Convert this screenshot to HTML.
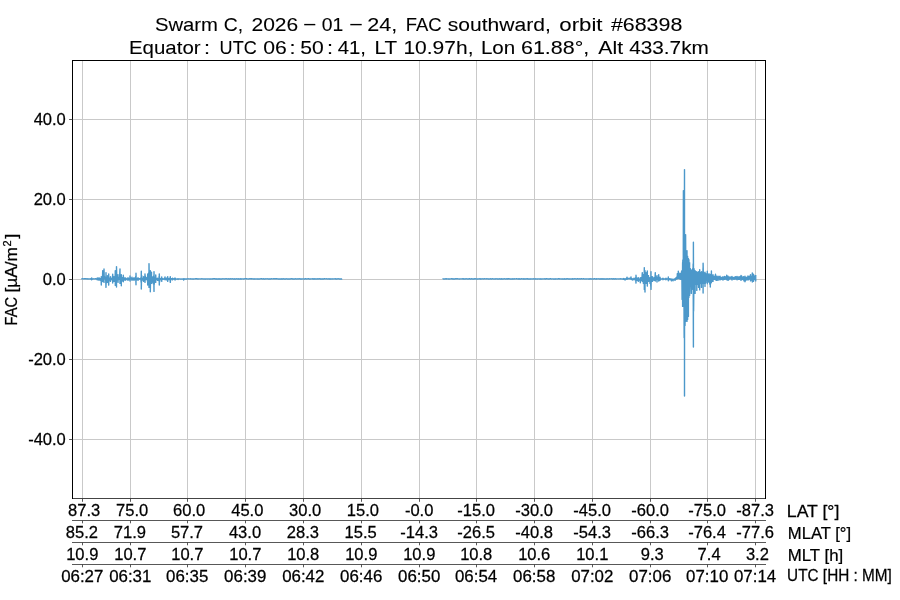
<!DOCTYPE html>
<html><head><meta charset="utf-8"><title>Swarm C FAC</title>
<style>
html,body{margin:0;padding:0;background:#fff;}
body{width:900px;height:600px;overflow:hidden;font-family:"Liberation Sans",sans-serif;}
svg{display:block;will-change:transform;font-family:"Liberation Sans",sans-serif;}
text{white-space:pre;}
</style></head><body>
<svg width="900" height="600" viewBox="0 0 900 600">
<rect width="900" height="600" fill="#fff"/>
<g stroke="#c9c9c9" stroke-width="1" fill="none"><line x1="82.5" y1="60.5" x2="82.5" y2="498.5"/><line x1="130.5" y1="60.5" x2="130.5" y2="498.5"/><line x1="187.5" y1="60.5" x2="187.5" y2="498.5"/><line x1="245.5" y1="60.5" x2="245.5" y2="498.5"/><line x1="303.5" y1="60.5" x2="303.5" y2="498.5"/><line x1="361.5" y1="60.5" x2="361.5" y2="498.5"/><line x1="419.5" y1="60.5" x2="419.5" y2="498.5"/><line x1="476.5" y1="60.5" x2="476.5" y2="498.5"/><line x1="534.5" y1="60.5" x2="534.5" y2="498.5"/><line x1="592.5" y1="60.5" x2="592.5" y2="498.5"/><line x1="650.5" y1="60.5" x2="650.5" y2="498.5"/><line x1="707.5" y1="60.5" x2="707.5" y2="498.5"/><line x1="755.5" y1="60.5" x2="755.5" y2="498.5"/><line x1="72.5" y1="119.5" x2="765.5" y2="119.5"/><line x1="72.5" y1="199.5" x2="765.5" y2="199.5"/><line x1="72.5" y1="279.5" x2="765.5" y2="279.5"/><line x1="72.5" y1="359.5" x2="765.5" y2="359.5"/><line x1="72.5" y1="439.5" x2="765.5" y2="439.5"/></g>
<path d="M81.30,278.85 L81.75,278.80 L82.20,278.95 L82.65,278.77 L83.10,278.91 L83.55,278.86 L84.00,278.77 L84.45,278.90 L84.90,278.76 L85.35,278.88 L85.80,278.77 L86.25,278.78 L86.70,278.88 L87.15,279.00 L87.60,278.79 L88.05,278.82 L88.50,278.94 L88.95,279.03 L89.40,278.92 L89.85,278.87 L90.30,279.04 L90.75,278.76 L91.00,279.01 L91.20,278.74 L91.65,279.25 L91.70,277.90 L91.70,279.90 L92.10,278.70 L92.50,278.84 L92.55,278.99 L93.00,278.80 L93.45,278.92 L93.90,278.94 L94.35,278.86 L94.80,278.91 L95.25,278.77 L95.70,278.77 L96.00,278.81 L96.15,278.95 L96.60,278.88 L97.05,279.17 L97.30,277.90 L97.30,279.90 L97.50,278.50 L97.95,279.05 L98.40,278.77 L98.85,279.75 L99.00,277.60 L99.00,280.40 L99.30,278.45 L99.75,279.17 L100.20,278.66 L100.65,280.19 L101.10,278.04 L101.30,285.10 L101.30,276.60 L101.55,282.38 L102.00,277.81 L102.45,279.81 L102.70,270.60 L102.70,281.40 L102.90,275.07 L103.35,278.68 L103.80,272.72 L104.00,282.40 L104.00,268.90 L104.25,278.31 L104.70,276.81 L105.15,278.91 L105.60,276.90 L106.00,287.40 L106.00,272.60 L106.05,284.72 L106.50,277.46 L106.95,280.14 L107.40,277.62 L107.50,282.40 L107.50,275.60 L107.85,280.26 L108.30,277.40 L108.70,285.10 L108.70,273.90 L108.75,282.59 L109.20,277.88 L109.65,279.71 L110.10,278.03 L110.50,281.40 L110.50,276.60 L110.55,280.20 L111.00,278.29 L111.45,279.30 L111.90,278.27 L112.35,280.42 L112.70,274.30 L112.70,283.10 L112.80,275.61 L113.25,279.98 L113.70,278.31 L114.00,281.40 L114.00,276.60 L114.15,279.95 L114.60,277.49 L115.05,279.91 L115.30,270.60 L115.30,285.40 L115.50,275.10 L115.95,279.62 L116.40,273.77 L116.50,287.10 L116.50,266.60 L116.85,279.69 L117.30,277.40 L117.75,279.61 L118.00,274.60 L118.00,282.40 L118.20,277.31 L118.65,279.61 L119.10,277.30 L119.55,278.65 L120.00,268.90 L120.00,283.40 L120.45,275.44 L120.90,281.43 L121.30,274.60 L121.30,285.70 L121.35,276.20 L121.80,281.28 L122.25,277.59 L122.70,279.33 L123.15,277.22 L123.30,281.70 L123.30,275.30 L123.60,279.61 L124.05,278.58 L124.50,279.34 L124.95,278.51 L125.00,280.40 L125.00,277.60 L125.40,279.43 L125.85,278.67 L126.00,279.70 L126.00,278.30 L126.30,279.10 L126.75,278.95 L127.20,278.98 L127.65,278.66 L128.00,280.40 L128.00,277.60 L128.10,279.35 L128.55,278.70 L129.00,279.20 L129.45,278.23 L129.90,280.31 L130.00,275.90 L130.00,281.10 L130.35,277.69 L130.80,279.17 L131.25,278.43 L131.70,279.42 L132.00,277.10 L132.00,280.40 L132.15,278.34 L132.60,279.33 L133.05,278.61 L133.50,279.32 L133.95,278.09 L134.00,280.40 L134.00,277.60 L134.40,279.26 L134.85,278.71 L135.30,279.38 L135.75,276.43 L136.00,284.70 L136.00,273.30 L136.20,280.45 L136.65,278.40 L137.10,279.16 L137.55,278.76 L138.00,280.40 L138.00,277.60 L138.45,279.19 L138.90,278.79 L139.35,279.11 L139.80,278.77 L140.25,279.13 L140.70,277.88 L141.15,282.34 L141.30,271.30 L141.30,289.10 L141.60,275.35 L142.05,280.30 L142.50,278.56 L142.95,279.40 L143.40,278.00 L143.50,281.40 L143.50,276.60 L143.85,279.62 L144.30,278.52 L144.75,280.54 L145.00,273.90 L145.00,282.40 L145.20,275.69 L145.65,279.59 L146.10,277.37 L146.55,279.20 L147.00,277.76 L147.45,281.26 L147.70,273.90 L147.70,285.10 L147.90,277.49 L148.35,280.88 L148.80,272.60 L149.00,287.40 L149.00,263.60 L149.25,279.08 L149.70,275.62 L150.15,285.82 L150.30,270.60 L150.30,291.70 L150.60,277.79 L151.05,280.34 L151.50,272.30 L151.50,283.40 L151.95,277.45 L152.40,279.98 L152.85,277.54 L153.00,282.40 L153.00,276.60 L153.30,283.76 L153.75,275.72 L154.00,291.40 L154.00,271.60 L154.20,284.34 L154.65,278.32 L155.10,279.45 L155.55,276.56 L155.70,282.40 L155.70,274.90 L156.00,280.11 L156.45,278.52 L156.90,279.26 L157.35,278.83 L157.50,280.40 L157.50,278.10 L157.80,279.59 L158.25,278.81 L158.70,280.51 L159.15,276.13 L159.30,285.10 L159.30,273.90 L159.60,281.97 L160.05,278.39 L160.50,279.44 L160.95,278.50 L161.40,279.74 L161.70,276.90 L161.70,281.40 L161.85,278.54 L162.30,279.17 L162.75,278.91 L163.00,278.60 L163.00,279.40 L163.20,278.89 L163.65,279.01 L164.10,279.09 L164.55,278.83 L165.00,276.90 L165.00,279.70 L165.45,278.19 L165.90,279.05 L166.35,279.51 L166.50,278.10 L166.50,279.90 L166.80,278.75 L167.25,279.39 L167.70,276.60 L167.70,281.40 L168.15,278.52 L168.60,279.37 L169.05,278.53 L169.50,279.60 L169.95,278.03 L170.30,282.40 L170.30,276.60 L170.40,281.28 L170.85,278.64 L171.30,279.10 L171.75,278.80 L172.20,279.12 L172.50,278.10 L172.50,279.90 L172.65,278.56 L173.10,279.12 L173.55,278.80 L174.00,279.11 L174.45,278.83 L174.90,279.35 L175.00,277.90 L175.00,280.10 L175.35,278.61 L175.80,278.90 L176.25,279.05 L176.70,279.10 L177.15,278.92 L177.60,278.93 L178.00,279.40 L178.00,278.60 L178.05,279.27 L178.50,279.04 L178.95,278.91 L179.40,278.90 L179.85,278.91 L180.30,279.13 L180.75,279.10 L181.20,278.90 L181.65,279.11 L182.10,279.15 L182.55,279.06 L183.00,278.97 L183.45,279.12 L183.70,280.10 L183.70,278.80 L183.90,279.49 L184.35,278.88 L184.80,279.04 L185.25,278.94 L185.70,278.91 L186.15,279.03 L186.60,278.88 L187.00,279.01 L187.05,279.00 L187.50,278.81 L187.95,278.83 L188.40,278.84 L188.85,278.82 L189.30,278.93 L189.75,278.83 L190.20,278.88 L190.65,278.79 L191.10,279.02 L191.55,278.86 L192.00,278.89 L192.45,278.93 L192.90,279.02 L193.35,278.88 L193.80,279.03 L194.25,278.90 L194.70,278.91 L195.15,278.91 L195.60,278.76 L196.05,278.88 L196.50,278.80 L196.95,278.75 L197.40,278.99 L197.85,278.80 L198.30,278.89 L198.75,278.97 L199.20,278.92 L199.65,278.85 L200.10,278.91 L200.55,278.92 L201.00,278.99 L201.45,278.78 L201.90,278.92 L202.35,278.82 L202.80,278.83 L203.25,278.98 L203.70,278.90 L204.15,278.92 L204.60,278.98 L205.05,279.02 L205.50,278.88 L205.95,278.93 L206.40,278.90 L206.85,278.90 L207.30,278.96 L207.75,278.89 L208.20,278.91 L208.65,278.89 L209.10,279.03 L209.55,278.96 L210.00,279.01 L210.45,279.03 L210.90,278.83 L211.35,278.92 L211.80,279.03 L212.25,279.00 L212.70,278.79 L213.15,278.79 L213.60,278.88 L214.05,278.77 L214.50,278.82 L214.95,278.77 L215.40,278.95 L215.85,278.99 L216.30,279.02 L216.75,278.80 L217.20,278.96 L217.65,278.95 L218.10,278.79 L218.55,279.01 L219.00,279.04 L219.45,278.82 L219.90,279.04 L220.35,278.87 L220.80,278.90 L221.25,279.05 L221.70,279.00 L222.15,278.80 L222.60,278.88 L223.05,278.90 L223.50,278.85 L223.95,278.81 L224.40,278.85 L224.85,278.97 L225.30,278.76 L225.75,278.92 L226.20,278.88 L226.65,278.76 L227.10,278.85 L227.55,278.94 L228.00,278.90 L228.45,278.77 L228.90,279.05 L229.35,278.99 L229.80,279.04 L230.25,278.78 L230.70,278.83 L231.15,278.76 L231.60,278.98 L232.05,278.83 L232.50,278.79 L232.95,278.88 L233.40,279.02 L233.85,279.00 L234.30,278.83 L234.75,278.79 L235.20,279.03 L235.65,278.92 L236.10,278.96 L236.55,278.78 L237.00,278.77 L237.45,278.96 L237.90,278.88 L238.35,278.77 L238.80,279.03 L239.25,278.94 L239.70,278.99 L240.15,278.78 L240.60,279.01 L241.05,278.77 L241.50,279.01 L241.95,278.89 L242.40,278.85 L242.85,278.92 L243.30,279.03 L243.75,278.83 L244.20,278.79 L244.65,278.91 L245.10,278.82 L245.55,278.78 L246.00,278.80 L246.45,278.77 L246.90,278.81 L247.35,278.84 L247.80,278.84 L248.25,278.98 L248.70,278.84 L249.15,278.90 L249.60,278.80 L250.05,278.85 L250.50,278.76 L250.95,278.83 L251.40,278.75 L251.85,278.97 L252.30,278.92 L252.75,278.81 L253.20,278.89 L253.65,279.03 L254.10,278.78 L254.55,279.00 L255.00,278.88 L255.45,278.90 L255.90,279.00 L256.35,278.87 L256.80,278.90 L257.25,278.96 L257.70,279.04 L258.15,278.85 L258.60,279.00 L259.05,278.96 L259.50,278.94 L259.95,278.87 L260.40,278.85 L260.85,278.77 L261.30,278.79 L261.75,278.77 L262.20,278.97 L262.65,278.83 L263.10,278.80 L263.55,278.78 L264.00,279.00 L264.45,279.01 L264.90,278.95 L265.35,278.83 L265.80,278.82 L266.25,278.84 L266.70,278.89 L267.15,278.80 L267.60,278.88 L268.05,278.83 L268.50,279.04 L268.95,279.04 L269.40,278.91 L269.85,278.82 L270.30,279.04 L270.75,278.84 L271.20,278.86 L271.65,278.75 L272.10,278.86 L272.55,278.89 L273.00,278.90 L273.45,278.81 L273.90,278.90 L274.35,278.75 L274.80,278.83 L275.25,278.78 L275.70,278.87 L276.15,278.76 L276.60,278.76 L277.05,278.84 L277.50,278.82 L277.95,278.93 L278.40,278.91 L278.85,278.98 L279.30,278.95 L279.75,278.96 L280.20,279.01 L280.65,278.87 L281.10,278.85 L281.55,279.05 L282.00,278.79 L282.45,278.97 L282.90,278.94 L283.35,278.76 L283.80,279.00 L284.25,279.02 L284.70,278.94 L285.15,278.97 L285.60,278.99 L286.05,278.79 L286.50,278.91 L286.95,278.90 L287.40,279.00 L287.85,278.99 L288.30,279.00 L288.75,278.93 L289.20,279.02 L289.65,278.95 L290.10,278.96 L290.55,278.82 L291.00,278.76 L291.45,278.79 L291.90,278.86 L292.35,278.78 L292.80,279.00 L293.25,278.92 L293.70,278.94 L294.15,278.94 L294.60,278.95 L295.05,278.90 L295.50,278.75 L295.95,278.99 L296.40,278.97 L296.85,278.90 L297.30,278.91 L297.75,278.95 L298.20,278.77 L298.65,278.97 L299.10,278.83 L299.55,278.77 L300.00,278.83 L300.45,278.97 L300.90,278.81 L301.35,278.97 L301.80,279.04 L302.25,278.90 L302.70,278.86 L303.15,278.89 L303.60,278.96 L304.05,278.98 L304.50,278.94 L304.95,278.94 L305.40,278.77 L305.85,278.79 L306.30,278.83 L306.75,278.97 L307.20,278.84 L307.65,278.92 L308.10,278.75 L308.55,278.77 L309.00,278.83 L309.45,278.95 L309.90,278.96 L310.35,278.95 L310.80,278.84 L311.25,278.90 L311.70,278.89 L312.15,278.89 L312.60,278.79 L313.05,279.02 L313.50,278.81 L313.95,279.04 L314.40,279.03 L314.85,278.76 L315.30,278.89 L315.75,279.00 L316.20,279.04 L316.65,278.88 L317.10,278.83 L317.55,278.81 L318.00,279.03 L318.45,278.81 L318.90,278.92 L319.35,278.79 L319.80,278.91 L320.25,279.04 L320.70,278.79 L321.15,279.00 L321.60,278.90 L322.05,279.02 L322.50,278.96 L322.95,278.82 L323.40,279.02 L323.85,278.90 L324.30,278.76 L324.75,278.75 L325.20,278.90 L325.65,278.89 L326.10,278.84 L326.55,278.79 L327.00,278.85 L327.45,278.84 L327.90,279.00 L328.35,278.75 L328.80,278.98 L329.25,279.00 L329.70,278.79 L330.15,279.03 L330.60,278.96 L331.05,279.02 L331.50,278.84 L331.95,278.86 L332.40,278.87 L332.85,279.05 L333.30,278.93 L333.75,278.86 L334.20,278.88 L334.65,278.83 L335.10,278.76 L335.55,278.78 L336.00,279.00 L336.45,278.84 L336.90,279.03 L337.35,278.82 L337.80,278.83 L338.25,278.90 L338.70,278.81 L339.15,278.86 L339.60,279.04 L340.05,279.02 L340.50,278.99 L340.95,278.94 L341.40,279.02 L341.85,279.03 L342.20,278.91" fill="none" stroke="#4c98ca" stroke-width="1.4" stroke-linejoin="round"/>
<path d="M442.50,278.97 L442.95,278.76 L443.40,278.97 L443.85,278.89 L444.30,278.98 L444.75,278.94 L445.20,278.84 L445.65,278.76 L446.10,279.03 L446.55,278.79 L447.00,278.89 L447.45,278.85 L447.90,278.84 L448.35,278.97 L448.80,279.04 L449.25,278.83 L449.70,278.95 L450.15,278.84 L450.60,278.92 L451.05,278.87 L451.50,278.80 L451.95,278.80 L452.40,278.81 L452.85,279.02 L453.30,278.90 L453.75,278.82 L454.20,279.02 L454.65,279.05 L455.10,278.88 L455.55,278.79 L456.00,278.81 L456.45,278.78 L456.90,278.85 L457.35,278.78 L457.80,278.82 L458.25,278.83 L458.70,278.92 L459.15,279.02 L459.60,278.97 L460.05,278.87 L460.50,278.87 L460.95,278.91 L461.40,278.86 L461.85,278.85 L462.30,278.77 L462.75,278.83 L463.20,279.04 L463.65,278.79 L464.10,278.90 L464.55,278.94 L465.00,279.01 L465.45,278.81 L465.90,278.83 L466.35,278.82 L466.80,278.87 L467.25,278.88 L467.70,279.04 L468.15,279.00 L468.60,279.01 L469.05,278.76 L469.50,278.76 L469.95,278.96 L470.40,279.02 L470.85,278.89 L471.30,278.93 L471.75,278.75 L472.20,278.87 L472.65,279.03 L473.10,279.00 L473.55,279.01 L474.00,279.04 L474.45,278.82 L474.90,278.78 L475.35,278.80 L475.80,278.91 L476.25,278.95 L476.70,279.03 L477.15,278.97 L477.60,278.94 L478.05,278.98 L478.50,278.89 L478.95,278.92 L479.40,278.76 L479.85,278.98 L480.30,278.82 L480.75,279.03 L481.20,278.94 L481.65,278.84 L482.10,278.79 L482.55,278.83 L483.00,278.94 L483.45,278.96 L483.90,278.78 L484.35,278.77 L484.80,278.91 L485.25,278.92 L485.70,278.87 L486.15,278.82 L486.60,278.93 L487.05,278.75 L487.50,278.84 L487.95,278.89 L488.40,279.04 L488.85,278.94 L489.30,279.02 L489.75,278.89 L490.20,278.82 L490.65,278.82 L491.10,279.04 L491.55,278.96 L492.00,278.84 L492.45,278.76 L492.90,278.90 L493.35,278.95 L493.80,278.88 L494.25,278.83 L494.70,278.95 L495.15,279.03 L495.60,278.82 L496.05,278.76 L496.50,278.85 L496.95,278.88 L497.40,278.95 L497.85,278.81 L498.30,278.99 L498.75,278.97 L499.20,278.90 L499.65,278.81 L500.10,279.04 L500.55,278.84 L501.00,279.00 L501.45,278.82 L501.90,278.82 L502.35,278.98 L502.80,278.84 L503.25,279.04 L503.70,278.90 L504.15,278.81 L504.60,278.82 L505.05,278.88 L505.50,278.95 L505.95,279.03 L506.40,278.79 L506.85,278.87 L507.30,278.81 L507.75,279.04 L508.20,278.79 L508.65,278.77 L509.10,278.77 L509.55,278.87 L510.00,279.02 L510.45,279.02 L510.90,278.97 L511.35,279.05 L511.80,279.03 L512.25,278.85 L512.70,278.81 L513.15,279.03 L513.60,278.97 L514.05,278.76 L514.50,278.95 L514.95,278.86 L515.40,278.86 L515.85,278.85 L516.30,278.80 L516.75,278.75 L517.20,278.83 L517.65,278.86 L518.10,279.04 L518.55,278.79 L519.00,279.04 L519.45,278.81 L519.90,278.86 L520.35,279.00 L520.80,279.00 L521.25,278.88 L521.70,278.76 L522.15,278.89 L522.60,278.86 L523.05,279.03 L523.50,278.81 L523.95,278.86 L524.40,279.02 L524.85,278.76 L525.30,278.87 L525.75,278.99 L526.20,278.98 L526.65,278.76 L527.10,278.76 L527.55,278.77 L528.00,279.03 L528.45,278.83 L528.90,278.97 L529.35,279.02 L529.80,278.85 L530.25,278.83 L530.70,279.04 L531.15,278.94 L531.60,278.83 L532.05,278.96 L532.50,278.84 L532.95,278.83 L533.40,278.75 L533.85,278.98 L534.30,279.02 L534.75,278.94 L535.20,279.03 L535.65,278.76 L536.10,278.82 L536.55,278.89 L537.00,279.04 L537.45,279.04 L537.90,278.87 L538.35,278.83 L538.80,278.88 L539.25,278.90 L539.70,279.03 L540.15,278.80 L540.60,278.99 L541.05,278.97 L541.50,279.00 L541.95,278.98 L542.40,278.93 L542.85,278.85 L543.30,278.85 L543.75,278.86 L544.20,278.98 L544.65,278.77 L545.10,278.81 L545.55,278.98 L546.00,278.82 L546.45,278.77 L546.90,278.76 L547.35,278.92 L547.80,278.85 L548.25,279.04 L548.70,279.02 L549.15,279.05 L549.60,278.83 L550.05,278.78 L550.50,278.78 L550.95,278.90 L551.40,278.96 L551.85,278.88 L552.30,278.82 L552.75,278.88 L553.20,278.94 L553.65,278.95 L554.10,278.97 L554.55,279.00 L555.00,278.95 L555.45,278.79 L555.90,279.00 L556.35,278.84 L556.80,278.92 L557.25,278.86 L557.70,278.97 L558.15,278.81 L558.60,278.82 L559.05,278.82 L559.50,278.80 L559.95,279.02 L560.40,278.92 L560.85,278.85 L561.30,278.87 L561.75,279.05 L562.20,278.90 L562.65,278.82 L563.10,278.99 L563.55,278.95 L564.00,279.05 L564.45,278.78 L564.90,278.89 L565.35,279.00 L565.80,279.00 L566.25,279.02 L566.70,278.76 L567.15,278.84 L567.60,278.79 L568.05,278.81 L568.50,279.04 L568.95,278.92 L569.40,279.03 L569.85,278.86 L570.30,279.01 L570.75,278.88 L571.20,278.83 L571.65,278.98 L572.10,279.03 L572.55,278.78 L573.00,278.93 L573.45,278.94 L573.90,278.82 L574.35,278.86 L574.80,278.79 L575.25,278.81 L575.70,278.83 L576.15,278.93 L576.60,278.95 L577.05,278.81 L577.50,278.75 L577.95,278.85 L578.40,278.95 L578.85,278.81 L579.30,278.84 L579.75,278.81 L580.20,278.99 L580.65,278.91 L581.10,278.77 L581.55,278.78 L582.00,278.87 L582.45,278.92 L582.90,278.94 L583.35,278.78 L583.80,278.80 L584.25,278.96 L584.70,278.87 L585.15,278.83 L585.60,278.84 L586.05,279.04 L586.50,278.84 L586.95,278.92 L587.40,278.86 L587.85,278.87 L588.30,279.01 L588.75,279.05 L589.20,278.86 L589.65,278.81 L590.10,278.97 L590.55,278.81 L591.00,278.75 L591.45,279.02 L591.90,278.88 L592.35,279.00 L592.80,278.87 L593.25,279.01 L593.70,278.89 L594.15,278.80 L594.60,278.75 L595.05,278.92 L595.50,278.94 L595.95,279.02 L596.40,278.78 L596.85,278.94 L597.30,278.86 L597.75,278.90 L598.20,278.79 L598.65,278.83 L599.10,278.91 L599.55,279.03 L600.00,278.78 L600.45,278.90 L600.90,278.99 L601.35,279.04 L601.80,278.81 L602.25,278.79 L602.70,279.03 L603.15,279.04 L603.60,278.89 L604.05,278.77 L604.50,279.03 L604.95,278.87 L605.40,279.02 L605.85,278.94 L606.30,279.00 L606.75,278.80 L607.20,278.99 L607.65,278.82 L608.10,278.87 L608.55,279.00 L609.00,279.00 L609.45,278.80 L609.90,278.82 L610.35,278.87 L610.80,278.91 L611.25,278.87 L611.70,278.79 L612.15,278.82 L612.60,278.97 L613.05,279.02 L613.50,278.76 L613.95,278.92 L614.40,278.98 L614.85,278.76 L615.00,279.00 L615.30,278.79 L615.75,278.93 L616.20,278.92 L616.65,278.94 L617.10,278.84 L617.55,278.88 L618.00,278.92 L618.45,278.88 L618.90,278.95 L619.35,278.88 L619.80,278.88 L620.25,278.76 L620.70,278.94 L621.15,278.90 L621.60,278.82 L622.05,278.98 L622.50,278.98 L622.95,278.89 L623.40,278.87 L623.70,278.60 L623.70,279.40 L623.85,278.85 L624.30,278.84 L624.75,279.39 L625.00,278.60 L625.00,280.10 L625.20,279.01 L625.65,278.85 L626.10,278.94 L626.55,278.74 L627.00,277.10 L627.00,279.40 L627.45,278.43 L627.90,278.77 L628.35,278.42 L628.80,278.78 L629.25,278.29 L629.70,278.74 L630.15,278.42 L630.60,278.73 L631.00,276.90 L631.00,279.40 L631.05,277.62 L631.50,278.83 L631.95,279.09 L632.30,280.10 L632.30,278.60 L632.40,279.75 L632.85,279.24 L633.30,279.16 L633.75,278.60 L634.00,279.90 L634.00,278.10 L634.20,279.22 L634.65,278.78 L635.10,279.08 L635.55,277.61 L636.00,283.10 L636.00,275.30 L636.45,280.49 L636.90,278.95 L637.35,279.81 L637.50,278.10 L637.50,280.40 L637.80,278.25 L638.25,280.10 L638.30,277.60 L638.30,281.40 L638.70,278.83 L639.15,279.76 L639.60,278.94 L640.05,281.16 L640.30,277.60 L640.30,282.70 L640.50,278.91 L640.95,280.68 L641.30,277.60 L641.30,280.40 L641.40,278.17 L641.85,279.58 L642.30,272.60 L642.30,281.40 L642.75,274.56 L643.20,280.58 L643.30,274.60 L643.30,283.40 L643.65,275.95 L644.10,283.91 L644.30,267.60 L644.30,289.40 L644.55,274.53 L645.00,292.10 L645.00,270.60 L645.45,282.50 L645.90,276.01 L646.00,283.40 L646.00,272.60 L646.35,279.57 L646.80,276.01 L647.25,283.12 L647.30,270.90 L647.30,286.10 L647.70,275.43 L648.15,279.28 L648.50,275.60 L648.50,281.40 L648.60,276.77 L649.05,279.28 L649.50,278.98 L649.95,282.10 L650.00,277.60 L650.00,283.40 L650.40,277.96 L650.85,286.39 L651.00,271.60 L651.00,289.40 L651.30,276.53 L651.75,280.35 L652.20,277.86 L652.50,281.40 L652.50,276.60 L652.65,279.67 L653.10,278.46 L653.55,279.26 L654.00,277.60 L654.00,280.40 L654.45,278.71 L654.90,279.28 L655.30,272.60 L655.30,281.10 L655.35,275.22 L655.80,279.45 L656.25,277.87 L656.70,279.87 L657.00,275.60 L657.00,282.10 L657.15,277.03 L657.60,279.25 L658.05,278.11 L658.50,279.73 L658.70,274.60 L658.70,281.10 L658.95,277.37 L659.40,279.25 L659.85,278.21 L660.00,280.40 L660.00,277.10 L660.30,279.40 L660.75,279.10 L661.20,278.98 L661.65,279.00 L662.10,278.90 L662.55,278.81 L663.00,278.30 L663.00,279.70 L663.45,278.82 L663.90,278.85 L664.35,278.99 L664.80,278.93 L665.25,278.96 L665.70,278.62 L666.00,279.70 L666.00,278.10 L666.15,279.12 L666.60,278.82 L667.05,278.95 L667.50,278.76 L667.95,278.53 L668.30,280.70 L668.30,276.90 L668.40,279.60 L668.85,278.67 L669.30,279.05 L669.75,279.30 L670.00,278.60 L670.00,279.90 L670.20,278.94 L670.65,279.21 L671.10,279.68 L671.50,279.10 L671.50,280.90 L671.55,279.44 L672.00,279.45 L672.45,279.40 L672.90,280.33 L673.00,279.30 L673.00,280.70 L673.35,279.51 L673.80,279.32 L674.25,279.24 L674.70,279.60 L675.00,278.60 L675.00,280.40 L675.15,278.69 L675.60,279.52 L676.00,277.60 L676.00,279.40 L676.05,278.11 L676.50,278.70 L676.95,276.72 L677.30,278.90 L677.30,273.60 L677.40,277.81 L677.85,273.57 L678.30,278.40 L678.30,271.10 L678.75,277.00 L679.20,274.75 L679.30,278.90 L679.30,274.10 L679.65,277.63 L680.00,273.10 L680.00,278.90 L680.10,273.83 L680.55,278.28 L680.80,273.60 L680.80,279.40 L681.00,274.79 L681.45,278.41 L681.60,270.90 L681.60,279.40 L681.90,277.73 L682.10,299.40 L682.10,270.60 L682.35,295.02 L682.60,262.60 L682.60,306.40 L682.80,259.96 L683.25,276.67 L683.40,190.60 L683.40,306.40 L683.70,233.83 L684.15,337.80 L684.50,169.60 L684.50,396.00 L684.60,249.65 L685.05,325.46 L685.50,240.11 L685.60,321.40 L685.60,234.60 L685.95,295.36 L686.40,267.05 L686.85,307.04 L687.00,250.60 L687.00,321.40 L687.30,268.36 L687.60,319.40 L687.60,256.20 L687.75,307.05 L688.20,266.67 L688.40,316.40 L688.40,258.60 L688.65,292.26 L688.90,259.60 L688.90,297.40 L689.10,270.37 L689.55,286.43 L689.60,262.60 L689.60,295.40 L690.00,274.02 L690.30,285.40 L690.30,268.60 L690.45,284.33 L690.90,272.59 L691.30,293.40 L691.30,269.90 L691.35,288.85 L691.80,276.17 L692.00,284.40 L692.00,270.60 L692.25,283.92 L692.70,268.60 L692.70,289.40 L693.15,263.87 L693.40,347.00 L693.40,242.20 L693.60,311.22 L694.05,270.82 L694.10,287.40 L694.10,268.60 L694.50,284.97 L694.95,276.82 L695.10,293.40 L695.10,270.60 L695.40,283.55 L695.80,271.60 L695.80,284.40 L695.85,275.42 L696.30,282.02 L696.75,276.52 L696.80,290.40 L696.80,271.60 L697.20,284.70 L697.60,272.60 L697.60,283.90 L697.65,274.58 L698.10,283.77 L698.55,274.33 L698.60,287.40 L698.60,271.60 L699.00,283.37 L699.45,274.13 L699.70,289.90 L699.70,269.60 L699.90,283.96 L700.35,273.96 L700.50,283.40 L700.50,272.60 L700.80,281.90 L701.25,275.98 L701.50,287.40 L701.50,271.60 L701.70,283.64 L702.15,273.69 L702.30,283.40 L702.30,272.60 L702.60,281.74 L703.05,267.60 L703.10,293.10 L703.10,263.30 L703.50,281.22 L703.90,272.60 L703.90,283.40 L703.95,275.70 L704.40,281.16 L704.85,274.44 L705.00,286.40 L705.00,272.10 L705.30,283.51 L705.75,275.00 L705.80,282.40 L705.80,273.60 L706.20,280.13 L706.65,273.71 L707.10,280.33 L707.30,271.30 L707.30,283.70 L707.55,275.32 L708.00,281.05 L708.30,274.60 L708.30,281.40 L708.45,275.78 L708.90,280.75 L709.00,273.60 L709.00,282.40 L709.35,275.67 L709.80,284.13 L710.25,277.44 L710.30,287.10 L710.30,274.60 L710.70,283.69 L711.15,273.80 L711.40,282.40 L711.40,270.90 L711.60,280.79 L712.05,276.07 L712.30,281.40 L712.30,275.60 L712.50,280.37 L712.95,276.07 L713.00,281.40 L713.00,274.60 L713.40,279.35 L713.85,276.35 L714.30,279.40 L714.75,276.27 L715.20,279.36 L715.50,274.10 L715.50,279.90 L715.65,276.15 L716.10,278.52 L716.50,276.10 L716.50,280.40 L716.55,277.49 L717.00,279.89 L717.45,277.23 L717.90,279.05 L718.00,276.10 L718.00,280.40 L718.35,277.55 L718.80,278.83 L719.25,276.82 L719.70,279.30 L720.00,276.10 L720.00,280.00 L720.15,276.81 L720.60,279.37 L721.05,277.52 L721.50,279.26 L721.95,277.35 L722.40,279.49 L722.85,277.07 L723.00,280.00 L723.00,276.60 L723.30,279.53 L723.75,277.51 L724.20,279.40 L724.65,276.41 L725.10,279.36 L725.55,276.93 L726.00,278.45 L726.45,276.66 L726.70,279.70 L726.70,275.10 L726.90,278.25 L727.35,276.21 L727.80,279.65 L728.00,276.10 L728.00,280.40 L728.25,276.93 L728.70,279.73 L729.15,276.97 L729.60,279.12 L730.05,277.53 L730.50,278.89 L730.95,276.93 L731.40,278.95 L731.85,277.37 L732.00,280.00 L732.00,276.40 L732.30,279.11 L732.75,277.63 L733.20,278.94 L733.65,277.39 L734.10,279.31 L734.55,277.30 L735.00,278.94 L735.45,276.78 L735.90,279.07 L736.35,276.87 L736.80,279.14 L737.00,276.40 L737.00,279.80 L737.25,277.54 L737.70,279.00 L738.15,277.04 L738.60,279.41 L739.05,277.00 L739.50,279.41 L739.95,276.65 L740.40,278.90 L740.85,276.10 L741.00,280.40 L741.00,275.40 L741.30,278.85 L741.75,276.27 L742.20,279.20 L742.65,277.52 L743.10,279.49 L743.55,276.70 L744.00,280.80 L744.45,277.93 L744.90,280.40 L745.00,276.10 L745.00,281.70 L745.35,277.31 L745.80,280.46 L746.25,277.53 L746.70,279.66 L747.15,277.15 L747.60,279.62 L748.00,275.90 L748.00,280.00 L748.05,277.05 L748.50,279.66 L748.95,276.78 L749.40,278.92 L749.85,275.94 L750.30,279.45 L750.50,274.60 L750.50,280.90 L750.75,276.53 L751.20,279.95 L751.65,276.20 L752.10,280.61 L752.30,272.90 L752.30,282.10 L752.55,274.70 L753.00,280.45 L753.45,275.47 L753.50,281.40 L753.50,274.10 L753.90,279.47 L754.35,276.16 L754.80,279.49 L755.25,275.67 L755.70,280.90 L755.70,275.10" fill="none" stroke="#4c98ca" stroke-width="1.4" stroke-linejoin="round"/>
<rect x="72.5" y="60.5" width="693.0" height="438.0" fill="none" stroke="#000" stroke-width="1"/>
<line x1="73.0" y1="498.5" x2="765.0" y2="498.5" stroke="#444" stroke-width="1"/>
<g stroke="#3a3a3a" stroke-width="0.85"><line x1="82.5" y1="498.5" x2="82.5" y2="501.8"/><line x1="82.5" y1="520.5" x2="82.5" y2="523.3"/><line x1="82.5" y1="542.5" x2="82.5" y2="545.3"/><line x1="82.5" y1="564.5" x2="82.5" y2="567.3"/><line x1="130.5" y1="498.5" x2="130.5" y2="501.8"/><line x1="130.5" y1="520.5" x2="130.5" y2="523.3"/><line x1="130.5" y1="542.5" x2="130.5" y2="545.3"/><line x1="130.5" y1="564.5" x2="130.5" y2="567.3"/><line x1="187.5" y1="498.5" x2="187.5" y2="501.8"/><line x1="187.5" y1="520.5" x2="187.5" y2="523.3"/><line x1="187.5" y1="542.5" x2="187.5" y2="545.3"/><line x1="187.5" y1="564.5" x2="187.5" y2="567.3"/><line x1="245.5" y1="498.5" x2="245.5" y2="501.8"/><line x1="245.5" y1="520.5" x2="245.5" y2="523.3"/><line x1="245.5" y1="542.5" x2="245.5" y2="545.3"/><line x1="245.5" y1="564.5" x2="245.5" y2="567.3"/><line x1="303.5" y1="498.5" x2="303.5" y2="501.8"/><line x1="303.5" y1="520.5" x2="303.5" y2="523.3"/><line x1="303.5" y1="542.5" x2="303.5" y2="545.3"/><line x1="303.5" y1="564.5" x2="303.5" y2="567.3"/><line x1="361.5" y1="498.5" x2="361.5" y2="501.8"/><line x1="361.5" y1="520.5" x2="361.5" y2="523.3"/><line x1="361.5" y1="542.5" x2="361.5" y2="545.3"/><line x1="361.5" y1="564.5" x2="361.5" y2="567.3"/><line x1="419.5" y1="498.5" x2="419.5" y2="501.8"/><line x1="419.5" y1="520.5" x2="419.5" y2="523.3"/><line x1="419.5" y1="542.5" x2="419.5" y2="545.3"/><line x1="419.5" y1="564.5" x2="419.5" y2="567.3"/><line x1="476.5" y1="498.5" x2="476.5" y2="501.8"/><line x1="476.5" y1="520.5" x2="476.5" y2="523.3"/><line x1="476.5" y1="542.5" x2="476.5" y2="545.3"/><line x1="476.5" y1="564.5" x2="476.5" y2="567.3"/><line x1="534.5" y1="498.5" x2="534.5" y2="501.8"/><line x1="534.5" y1="520.5" x2="534.5" y2="523.3"/><line x1="534.5" y1="542.5" x2="534.5" y2="545.3"/><line x1="534.5" y1="564.5" x2="534.5" y2="567.3"/><line x1="592.5" y1="498.5" x2="592.5" y2="501.8"/><line x1="592.5" y1="520.5" x2="592.5" y2="523.3"/><line x1="592.5" y1="542.5" x2="592.5" y2="545.3"/><line x1="592.5" y1="564.5" x2="592.5" y2="567.3"/><line x1="650.5" y1="498.5" x2="650.5" y2="501.8"/><line x1="650.5" y1="520.5" x2="650.5" y2="523.3"/><line x1="650.5" y1="542.5" x2="650.5" y2="545.3"/><line x1="650.5" y1="564.5" x2="650.5" y2="567.3"/><line x1="707.5" y1="498.5" x2="707.5" y2="501.8"/><line x1="707.5" y1="520.5" x2="707.5" y2="523.3"/><line x1="707.5" y1="542.5" x2="707.5" y2="545.3"/><line x1="707.5" y1="564.5" x2="707.5" y2="567.3"/><line x1="755.5" y1="498.5" x2="755.5" y2="501.8"/><line x1="755.5" y1="520.5" x2="755.5" y2="523.3"/><line x1="755.5" y1="542.5" x2="755.5" y2="545.3"/><line x1="755.5" y1="564.5" x2="755.5" y2="567.3"/><line x1="69.1" y1="119.5" x2="72.5" y2="119.5"/><line x1="69.1" y1="199.5" x2="72.5" y2="199.5"/><line x1="69.1" y1="279.5" x2="72.5" y2="279.5"/><line x1="69.1" y1="359.5" x2="72.5" y2="359.5"/><line x1="69.1" y1="439.5" x2="72.5" y2="439.5"/><line x1="72.0" y1="520.5" x2="766.0" y2="520.5"/><line x1="72.0" y1="542.5" x2="766.0" y2="542.5"/><line x1="72.0" y1="564.5" x2="766.0" y2="564.5"/></g>
<text transform="translate(33.63,124.70) scale(0.9850,1)" font-size="16.8" fill="#000" stroke="#000" stroke-width="0.25">40.0</text>
<text transform="translate(33.63,204.70) scale(0.9850,1)" font-size="16.8" fill="#000" stroke="#000" stroke-width="0.25">20.0</text>
<text transform="translate(42.82,284.70) scale(0.9850,1)" font-size="16.8" fill="#000" stroke="#000" stroke-width="0.25">0.0</text>
<text transform="translate(28.13,364.70) scale(0.9850,1)" font-size="16.8" fill="#000" stroke="#000" stroke-width="0.25">-20.0</text>
<text transform="translate(28.13,444.70) scale(0.9850,1)" font-size="16.8" fill="#000" stroke="#000" stroke-width="0.25">-40.0</text>
<text transform="translate(68.11,515.70) scale(0.9850,1)" font-size="16.8" fill="#000" stroke="#000" stroke-width="0.25">87.3</text>
<text transform="translate(116.00,515.70) scale(0.9850,1)" font-size="16.8" fill="#000" stroke="#000" stroke-width="0.25">75.0</text>
<text transform="translate(173.00,515.70) scale(0.9850,1)" font-size="16.8" fill="#000" stroke="#000" stroke-width="0.25">60.0</text>
<text transform="translate(231.23,515.70) scale(0.9850,1)" font-size="16.8" fill="#000" stroke="#000" stroke-width="0.25">45.0</text>
<text transform="translate(289.11,515.70) scale(0.9850,1)" font-size="16.8" fill="#000" stroke="#000" stroke-width="0.25">30.0</text>
<text transform="translate(346.80,515.70) scale(0.9850,1)" font-size="16.8" fill="#000" stroke="#000" stroke-width="0.25">15.0</text>
<text transform="translate(404.89,515.70) scale(0.9850,1)" font-size="16.8" fill="#000" stroke="#000" stroke-width="0.25">-0.0</text>
<text transform="translate(457.29,515.70) scale(0.9850,1)" font-size="16.8" fill="#000" stroke="#000" stroke-width="0.25">-15.0</text>
<text transform="translate(515.29,515.70) scale(0.9850,1)" font-size="16.8" fill="#000" stroke="#000" stroke-width="0.25">-30.0</text>
<text transform="translate(573.29,515.70) scale(0.9850,1)" font-size="16.8" fill="#000" stroke="#000" stroke-width="0.25">-45.0</text>
<text transform="translate(631.29,515.70) scale(0.9850,1)" font-size="16.8" fill="#000" stroke="#000" stroke-width="0.25">-60.0</text>
<text transform="translate(688.29,515.70) scale(0.9850,1)" font-size="16.8" fill="#000" stroke="#000" stroke-width="0.25">-75.0</text>
<text transform="translate(736.34,515.70) scale(0.9850,1)" font-size="16.8" fill="#000" stroke="#000" stroke-width="0.25">-87.3</text>
<text transform="translate(65.87,537.90) scale(0.9850,1)" font-size="16.8" fill="#000" stroke="#000" stroke-width="0.25">85.2</text>
<text transform="translate(113.77,537.90) scale(0.9850,1)" font-size="16.8" fill="#000" stroke="#000" stroke-width="0.25">71.9</text>
<text transform="translate(170.89,537.90) scale(0.9850,1)" font-size="16.8" fill="#000" stroke="#000" stroke-width="0.25">57.7</text>
<text transform="translate(228.93,537.90) scale(0.9850,1)" font-size="16.8" fill="#000" stroke="#000" stroke-width="0.25">43.0</text>
<text transform="translate(286.75,537.90) scale(0.9850,1)" font-size="16.8" fill="#000" stroke="#000" stroke-width="0.25">28.3</text>
<text transform="translate(344.52,537.90) scale(0.9850,1)" font-size="16.8" fill="#000" stroke="#000" stroke-width="0.25">15.5</text>
<text transform="translate(400.34,537.90) scale(0.9850,1)" font-size="16.8" fill="#000" stroke="#000" stroke-width="0.25">-14.3</text>
<text transform="translate(457.31,537.90) scale(0.9850,1)" font-size="16.8" fill="#000" stroke="#000" stroke-width="0.25">-26.5</text>
<text transform="translate(515.34,537.90) scale(0.9850,1)" font-size="16.8" fill="#000" stroke="#000" stroke-width="0.25">-40.8</text>
<text transform="translate(573.34,537.90) scale(0.9850,1)" font-size="16.8" fill="#000" stroke="#000" stroke-width="0.25">-54.3</text>
<text transform="translate(631.34,537.90) scale(0.9850,1)" font-size="16.8" fill="#000" stroke="#000" stroke-width="0.25">-66.3</text>
<text transform="translate(688.21,537.90) scale(0.9850,1)" font-size="16.8" fill="#000" stroke="#000" stroke-width="0.25">-76.4</text>
<text transform="translate(736.34,537.90) scale(0.9850,1)" font-size="16.8" fill="#000" stroke="#000" stroke-width="0.25">-77.6</text>
<text transform="translate(66.16,560.10) scale(0.9850,1)" font-size="16.8" fill="#000" stroke="#000" stroke-width="0.25">10.9</text>
<text transform="translate(114.20,560.10) scale(0.9850,1)" font-size="16.8" fill="#000" stroke="#000" stroke-width="0.25">10.7</text>
<text transform="translate(171.20,560.10) scale(0.9850,1)" font-size="16.8" fill="#000" stroke="#000" stroke-width="0.25">10.7</text>
<text transform="translate(229.20,560.10) scale(0.9850,1)" font-size="16.8" fill="#000" stroke="#000" stroke-width="0.25">10.7</text>
<text transform="translate(287.14,560.10) scale(0.9850,1)" font-size="16.8" fill="#000" stroke="#000" stroke-width="0.25">10.8</text>
<text transform="translate(345.16,560.10) scale(0.9850,1)" font-size="16.8" fill="#000" stroke="#000" stroke-width="0.25">10.9</text>
<text transform="translate(403.16,560.10) scale(0.9850,1)" font-size="16.8" fill="#000" stroke="#000" stroke-width="0.25">10.9</text>
<text transform="translate(460.14,560.10) scale(0.9850,1)" font-size="16.8" fill="#000" stroke="#000" stroke-width="0.25">10.8</text>
<text transform="translate(518.14,560.10) scale(0.9850,1)" font-size="16.8" fill="#000" stroke="#000" stroke-width="0.25">10.6</text>
<text transform="translate(576.18,560.10) scale(0.9850,1)" font-size="16.8" fill="#000" stroke="#000" stroke-width="0.25">10.1</text>
<text transform="translate(640.76,560.10) scale(0.9850,1)" font-size="16.8" fill="#000" stroke="#000" stroke-width="0.25">9.3</text>
<text transform="translate(697.61,560.10) scale(0.9850,1)" font-size="16.8" fill="#000" stroke="#000" stroke-width="0.25">7.4</text>
<text transform="translate(745.90,560.10) scale(0.9850,1)" font-size="16.8" fill="#000" stroke="#000" stroke-width="0.25">3.2</text>
<text transform="translate(61.16,581.80) scale(1.0047,1)" font-size="16.8" fill="#000" stroke="#000" stroke-width="0.25">06:27</text>
<text transform="translate(109.14,581.80) scale(1.0047,1)" font-size="16.8" fill="#000" stroke="#000" stroke-width="0.25">06:31</text>
<text transform="translate(166.08,581.80) scale(1.0047,1)" font-size="16.8" fill="#000" stroke="#000" stroke-width="0.25">06:35</text>
<text transform="translate(224.12,581.80) scale(1.0047,1)" font-size="16.8" fill="#000" stroke="#000" stroke-width="0.25">06:39</text>
<text transform="translate(282.16,581.80) scale(1.0047,1)" font-size="16.8" fill="#000" stroke="#000" stroke-width="0.25">06:42</text>
<text transform="translate(340.10,581.80) scale(1.0047,1)" font-size="16.8" fill="#000" stroke="#000" stroke-width="0.25">06:46</text>
<text transform="translate(398.06,581.80) scale(1.0047,1)" font-size="16.8" fill="#000" stroke="#000" stroke-width="0.25">06:50</text>
<text transform="translate(454.97,581.80) scale(1.0047,1)" font-size="16.8" fill="#000" stroke="#000" stroke-width="0.25">06:54</text>
<text transform="translate(513.10,581.80) scale(1.0047,1)" font-size="16.8" fill="#000" stroke="#000" stroke-width="0.25">06:58</text>
<text transform="translate(571.16,581.80) scale(1.0047,1)" font-size="16.8" fill="#000" stroke="#000" stroke-width="0.25">07:02</text>
<text transform="translate(629.10,581.80) scale(1.0047,1)" font-size="16.8" fill="#000" stroke="#000" stroke-width="0.25">07:06</text>
<text transform="translate(686.06,581.80) scale(1.0047,1)" font-size="16.8" fill="#000" stroke="#000" stroke-width="0.25">07:10</text>
<text transform="translate(733.97,581.80) scale(1.0047,1)" font-size="16.8" fill="#000" stroke="#000" stroke-width="0.25">07:14</text>
<text transform="translate(786.84,517.10) scale(1.0502,1)" font-size="16.8" fill="#000" stroke="#000" stroke-width="0.25">LAT [°]</text>
<text transform="translate(787.83,539.00) scale(0.9902,1)" font-size="16.8" fill="#000" stroke="#000" stroke-width="0.25">MLAT [°]</text>
<text transform="translate(787.81,560.60) scale(0.9993,1)" font-size="16.8" fill="#000" stroke="#000" stroke-width="0.25">MLT [h]</text>
<text transform="translate(787.11,581.40) scale(0.9127,1)" font-size="16.8" fill="#000" stroke="#000" stroke-width="0.25">UTC [HH : MM]</text>
<text transform="translate(16.8,325.41) rotate(-90) scale(0.9071,1)" font-size="16.128" fill="#000" stroke="#000" stroke-width="0.25">FAC</text>
<text transform="translate(16.8,292.40) rotate(-90) scale(1.0651,1)" font-size="16.128" fill="#000" stroke="#000" stroke-width="0.25">[µA/m</text>
<text transform="translate(11.0,246.55) rotate(-90) scale(0.9473,1)" font-size="11.6" fill="#000" stroke="#000" stroke-width="0.25">2</text>
<text transform="translate(16.8,238.84) rotate(-90) scale(1.1471,1)" font-size="16.128" fill="#000" stroke="#000" stroke-width="0.25">]</text>
<text transform="translate(154.89,31.20) scale(1.1278,1)" font-size="18.0" fill="#000" stroke="#000" stroke-width="0.08">Swarm</text>
<text transform="translate(223.73,31.20) scale(1.0724,1)" font-size="18.0" fill="#000" stroke="#000" stroke-width="0.08">C,</text>
<text transform="translate(251.45,31.20) scale(1.1685,1)" font-size="18.0" fill="#000" stroke="#000" stroke-width="0.08">2026</text>
<line x1="304.2" y1="24.6" x2="315.3" y2="24.6" stroke="#000" stroke-width="1.4"/>
<text transform="translate(321.73,31.20) scale(1.0758,1)" font-size="18.0" fill="#000" stroke="#000" stroke-width="0.08">01</text>
<line x1="350.3" y1="24.6" x2="361.7" y2="24.6" stroke="#000" stroke-width="1.4"/>
<text transform="translate(367.22,31.20) scale(1.2000,1)" font-size="18.0" fill="#000" stroke="#000" stroke-width="0.08">24,</text>
<text transform="translate(405.78,31.20) scale(1.0259,1)" font-size="18.0" fill="#000" stroke="#000" stroke-width="0.08">FAC</text>
<text transform="translate(447.82,31.20) scale(1.1704,1)" font-size="18.0" fill="#000" stroke="#000" stroke-width="0.08">southward,</text>
<text transform="translate(559.25,31.20) scale(1.2372,1)" font-size="18.0" fill="#000" stroke="#000" stroke-width="0.08">orbit</text>
<text transform="translate(610.89,31.20) scale(1.1897,1)" font-size="18.0" fill="#000" stroke="#000" stroke-width="0.08">#68398</text>
<text transform="translate(128.91,53.80) scale(1.1372,1)" font-size="18.0" fill="#000" stroke="#000" stroke-width="0.08">Equator</text>
<text transform="translate(204.00,53.80) scale(1.2000,1)" font-size="18.0" fill="#000" stroke="#000" stroke-width="0.08">:</text>
<text transform="translate(219.60,53.80) scale(1.0023,1)" font-size="18.0" fill="#000" stroke="#000" stroke-width="0.08">UTC</text>
<text transform="translate(263.15,53.80) scale(1.1787,1)" font-size="18.0" fill="#000" stroke="#000" stroke-width="0.08">06</text>
<text transform="translate(289.50,53.80) scale(1.2000,1)" font-size="18.0" fill="#000" stroke="#000" stroke-width="0.08">:</text>
<text transform="translate(300.16,53.80) scale(1.1730,1)" font-size="18.0" fill="#000" stroke="#000" stroke-width="0.08">50</text>
<text transform="translate(327.00,53.80) scale(1.2000,1)" font-size="18.0" fill="#000" stroke="#000" stroke-width="0.08">:</text>
<text transform="translate(337.74,53.80) scale(1.1307,1)" font-size="18.0" fill="#000" stroke="#000" stroke-width="0.08">41,</text>
<text transform="translate(374.60,53.80) scale(1.1477,1)" font-size="18.0" fill="#000" stroke="#000" stroke-width="0.08">LT</text>
<text transform="translate(403.42,53.80) scale(1.1672,1)" font-size="18.0" fill="#000" stroke="#000" stroke-width="0.08">10.97h,</text>
<text transform="translate(480.90,53.80) scale(1.1458,1)" font-size="18.0" fill="#000" stroke="#000" stroke-width="0.08">Lon</text>
<text transform="translate(520.92,53.80) scale(1.1952,1)" font-size="18.0" fill="#000" stroke="#000" stroke-width="0.08">61.88°,</text>
<text transform="translate(598.35,53.80) scale(1.1807,1)" font-size="18.0" fill="#000" stroke="#000" stroke-width="0.08">Alt</text>
<text transform="translate(629.13,53.80) scale(1.1563,1)" font-size="18.0" fill="#000" stroke="#000" stroke-width="0.08">433.7km</text>
</svg>
</body></html>
